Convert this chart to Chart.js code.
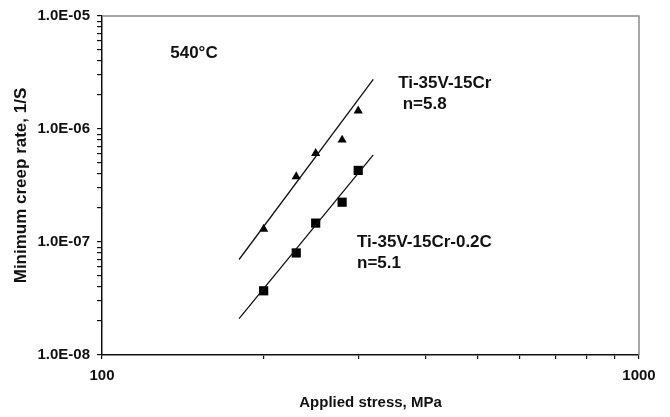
<!DOCTYPE html>
<html>
<head>
<meta charset="utf-8">
<script src="https://cdn.jsdelivr.net/npm/chart.js@4"></script>
<style>
  html, body { margin: 0; padding: 0; background: #fff; }
  #wrap { width: 670px; height: 417px; }
</style>
</head>
<body>
<div id="wrap"><canvas id="creep"></canvas></div>
<script>
// measured points
const stressTri = [200, 230, 250, 280, 300];
const rateTri = [1.3e-7, 3.8e-7, 6.1e-7, 8.0e-7, 1.45e-6];
const stressSq = [200, 230, 250, 280, 300];
const rateSq = [3.7e-8, 8.0e-8, 1.47e-7, 2.25e-7, 4.3e-7];

// fitted power-law lines (end points)
const fitStress = [180, 320];
const fitTri = [7.0e-8, 2.75e-6];
const fitSq = [2.1e-8, 5.9e-7];

// axis ticks
const xTicks = [100, 200, 300, 400, 500, 600, 700, 800, 900, 1000];
const xLabels = [100, 1000];
const yDecades = [1e-8, 1e-7, 1e-6, 1e-5];

// text notes, placed in data space
const noteText = ["540\u00B0C", "Ti-35V-15Cr", "n=5.8", "Ti-35V-15Cr-0.2C", "n=5.1"];
const noteX = [134, 356, 363, 298.5, 298.5];
const noteY = [4.7e-6, 2.56e-6, 1.67e-6, 9.9e-8, 6.5e-8];

const FONT = "Liberation Sans, Arial, sans-serif";

function toPts(xs, ys) {
  return xs.map((x, i) => ({ x: x, y: ys[i] }));
}

function sciLabel(v) {
  const e = Math.round(Math.log10(v));
  const m = v / Math.pow(10, e);
  const sign = e < 0 ? "-" : "+";
  return m.toFixed(1) + "E" + sign + String(Math.abs(e)).padStart(2, "0");
}

// y ticks: every 1..9 inside each decade
const yTicks = [];
yDecades.forEach((d, i) => {
  if (i === yDecades.length - 1) { yTicks.push(d); return; }
  for (let k = 1; k <= 9; k++) yTicks.push(d * k);
});

// gray frame on the top and right of the plot area, and the text notes
const framePlugin = {
  id: "frame",
  afterDraw(chart) {
    const { ctx, chartArea: a, scales } = chart;
    ctx.save();
    ctx.strokeStyle = "#8a8a8a";
    ctx.lineWidth = 1.5;
    ctx.beginPath();
    ctx.moveTo(a.left, a.top);
    ctx.lineTo(a.right, a.top);
    ctx.lineTo(a.right, a.bottom);
    ctx.stroke();

    ctx.fillStyle = "#111";
    ctx.font = "bold 17px " + FONT;
    ctx.textAlign = "left";
    ctx.textBaseline = "middle";
    noteText.forEach((t, i) => {
      ctx.fillText(t, scales.x.getPixelForValue(noteX[i]), scales.y.getPixelForValue(noteY[i]));
    });
    ctx.restore();
  }
};

new Chart(document.getElementById("creep"), {
  type: "scatter",
  data: {
    datasets: [
      {
        label: "Ti-35V-15Cr fit",
        data: toPts(fitStress, fitTri),
        showLine: true,
        borderColor: "#111",
        borderWidth: 1.3,
        pointRadius: 0
      },
      {
        label: "Ti-35V-15Cr-0.2C fit",
        data: toPts(fitStress, fitSq),
        showLine: true,
        borderColor: "#111",
        borderWidth: 1.3,
        pointRadius: 0
      },
      {
        label: "Ti-35V-15Cr",
        data: toPts(stressTri, rateTri),
        pointStyle: "triangle",
        pointRadius: 5.3,
        backgroundColor: "#000",
        borderColor: "#000",
        borderWidth: 0
      },
      {
        label: "Ti-35V-15Cr-0.2C",
        data: toPts(stressSq, rateSq),
        pointStyle: "rect",
        pointRadius: 6.5,
        backgroundColor: "#000",
        borderColor: "#000",
        borderWidth: 0
      }
    ]
  },
  options: {
    responsive: true,
    maintainAspectRatio: false,
    animation: false,
    layout: { padding: { top: 15, right: 31, left: 0, bottom: 0 } },
    plugins: {
      legend: { display: false },
      tooltip: { enabled: false }
    },
    scales: {
      x: {
        type: "logarithmic",
        min: 100,
        max: 1000,
        afterBuildTicks: s => { s.ticks = xTicks.map(v => ({ value: v })); },
        afterFit: s => { s.height = 62; },
        border: { display: true, color: "#111", width: 1.5 },
        grid: { display: true, drawOnChartArea: false, drawTicks: true, tickLength: 4, color: "#111", lineWidth: 1.2 },
        ticks: {
          autoSkip: false,
          maxRotation: 0,
          padding: 8,
          color: "#111",
          font: { family: FONT, size: 15, weight: "bold" },
          callback: v => xLabels.includes(v) ? String(v) : ""
        },
        title: {
          display: true,
          text: "Applied stress, MPa",
          color: "#111",
          font: { family: FONT, size: 15, weight: "bold" },
          padding: { top: 0, bottom: 5 }
        }
      },
      y: {
        type: "logarithmic",
        min: 1e-8,
        max: 1e-5,
        afterBuildTicks: s => { s.ticks = yTicks.map(v => ({ value: v })); },
        afterFit: s => { s.width = 102; },
        border: { display: true, color: "#111", width: 1.5 },
        grid: { display: true, drawOnChartArea: false, drawTicks: true, tickLength: 5, color: "#111", lineWidth: 1.2 },
        ticks: {
          autoSkip: false,
          padding: 7,
          color: "#111",
          font: { family: FONT, size: 15, weight: "bold" },
          callback: v => yDecades.some(d => Math.abs(v / d - 1) < 1e-6) ? sciLabel(v) : ""
        },
        title: {
          display: true,
          text: "Minimum creep rate, 1/S",
          color: "#111",
          font: { family: FONT, size: 17, weight: "bold" },
          padding: { top: 11, bottom: 0 }
        }
      }
    }
  },
  plugins: [framePlugin]
});
</script>
</body>
</html>
